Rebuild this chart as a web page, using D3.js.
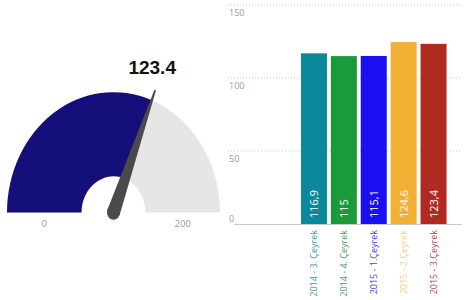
<!DOCTYPE html>
<html>
<head>
<meta charset="utf-8">
<script src="https://cdn.jsdelivr.net/npm/d3@7"></script>
<style>
  html, body { margin: 0; padding: 0; background: #fff; }
  svg { display: block; }
</style>
</head>
<body>
<div id="chart"></div>
<script>
// gauge data
const gaugeValue = 123.4;
const gaugeMin = 0;
const gaugeMax = 200;

// bar data
const categories = ['2014 - 3. Çeyrek', '2014 - 4. Çeyrek', '2015 - 1.Çeyrek', '2015 - 2.Çeyrek', '2015 - 3.Çeyrek'];
const values = [116.9, 115, 115.1, 124.6, 123.4];
const valueLabels = ['116,9', '115', '115,1', '124,6', '123,4'];
const yTicks = [0, 50, 100, 150];

const barColors = ['#0b8899', '#1b9a3c', '#1a0ff2', '#f2b035', '#b02a22'];
const labelColors = ['#3f98a8', '#4a9e5e', '#4a3de6', '#f5cd8c', '#b04a48'];

const W = 468, H = 300;
const svg = d3.select('#chart').append('svg')
  .attr('width', W).attr('height', H);

// ---- Gauge ----
const cx = 113.5, cy = 212.5, rOuter = 106.5, rInner = 32, yStretch = 1.13;
const angle = d3.scaleLinear().domain([gaugeMin, gaugeMax]).range([-Math.PI / 2, Math.PI / 2]);

const g = svg.append('g').attr('transform', `translate(${cx},${cy}) scale(1,${yStretch})`);
const arc = d3.arc().innerRadius(rInner).outerRadius(rOuter);

g.append('path')
  .attr('d', arc({ startAngle: -Math.PI / 2, endAngle: Math.PI / 2 }))
  .attr('fill', '#e6e6e6');
g.append('path')
  .attr('d', arc({ startAngle: -Math.PI / 2, endAngle: angle(gaugeValue) }))
  .attr('fill', '#140f7a');

// needle
const a = angle(gaugeValue);
const rNeedle = 116, baseW = 6.5, tipW = 0.8;
const ux = Math.sin(a), uy = -Math.cos(a);
const px = -uy, py = ux;
const p = d3.path();
p.moveTo(px * baseW, py * baseW);
p.lineTo(ux * rNeedle + px * tipW, uy * rNeedle + py * tipW);
p.lineTo(ux * rNeedle - px * tipW, uy * rNeedle - py * tipW);
p.lineTo(-px * baseW, -py * baseW);
p.closePath();
g.append('path').attr('d', p.toString()).attr('fill', '#4a4a4a');
g.append('circle').attr('r', baseW).attr('fill', '#4a4a4a');

// value label near needle tip
const tipX = cx + ux * rNeedle;
const tipY = cy + uy * rNeedle * yStretch;
svg.append('text')
  .attr('x', tipX - 3).attr('y', tipY - 16)
  .attr('text-anchor', 'middle')
  .attr('font-family', "'Liberation Sans', Arial, sans-serif")
  .attr('font-weight', 'bold')
  .attr('font-size', '19px')
  .attr('fill', '#111')
  .text(d3.format('.1f')(gaugeValue));

// min / max labels
const rMid = (rInner + rOuter) / 2;
[[gaugeMin, -1], [gaugeMax, 1]].forEach(([v, s]) => {
  svg.append('text')
    .attr('x', cx + s * rMid).attr('y', cy + 14)
    .attr('text-anchor', 'middle')
    .attr('font-family', "'Open Sans', sans-serif")
    .attr('font-size', '9.5px')
    .attr('fill', '#999')
    .text(v);
});

// ---- Bar chart ----
const y = d3.scaleLinear().domain([0, 150]).range([224, 5]);
const x = d3.scaleBand().domain(categories).range([299, 448.5]).paddingInner(0.13).paddingOuter(0.065);
const gridX0 = 228, gridX1 = 462;

const gb = svg.append('g');
yTicks.forEach(t => {
  if (t > 0) {
    gb.append('line')
      .attr('x1', gridX0).attr('x2', gridX1)
      .attr('y1', y(t)).attr('y2', y(t))
      .attr('stroke', '#c8c8c8').attr('stroke-width', 1)
      .attr('stroke-dasharray', '1,2');
  }
  gb.append('text')
    .attr('x', gridX0 + 1)
    .attr('y', t > 0 ? y(t) + 11 : y(t) - 2)
    .attr('font-family', "'Open Sans', sans-serif")
    .attr('font-size', '9px')
    .attr('fill', '#999')
    .text(t);
});

gb.selectAll('rect.bar')
  .data(values)
  .join('rect')
  .attr('class', 'bar')
  .attr('x', (d, i) => x(categories[i]))
  .attr('y', d => y(d))
  .attr('width', x.bandwidth())
  .attr('height', d => y(0) - y(d))
  .attr('fill', (d, i) => barColors[i]);

gb.append('line')
  .attr('x1', gridX0 + 6).attr('x2', gridX1)
  .attr('y1', y(0) + 0.5).attr('y2', y(0) + 0.5)
  .attr('stroke', '#c8c8c8');

// value labels inside bars
gb.selectAll('text.val')
  .data(valueLabels)
  .join('text')
  .attr('class', 'val')
  .attr('transform', (d, i) => `translate(${x(categories[i]) + x.bandwidth() / 2 + 4},${y(0) - 6}) rotate(-90)`)
  .attr('font-family', "'Open Sans', sans-serif")
  .attr('font-size', '11px')
  .attr('fill', '#fff')
  .text(d => d);

// category labels
gb.selectAll('text.cat')
  .data(categories)
  .join('text')
  .attr('class', 'cat')
  .attr('transform', (d, i) => `translate(${x(d) + x.bandwidth() / 2 + 3.5},${y(0) + 6}) rotate(-90)`)
  .attr('text-anchor', 'end')
  .attr('font-family', "'Open Sans', sans-serif")
  .attr('font-size', '9px')
  .attr('fill', (d, i) => labelColors[i])
  .text(d => d);
</script>
</body>
</html>
